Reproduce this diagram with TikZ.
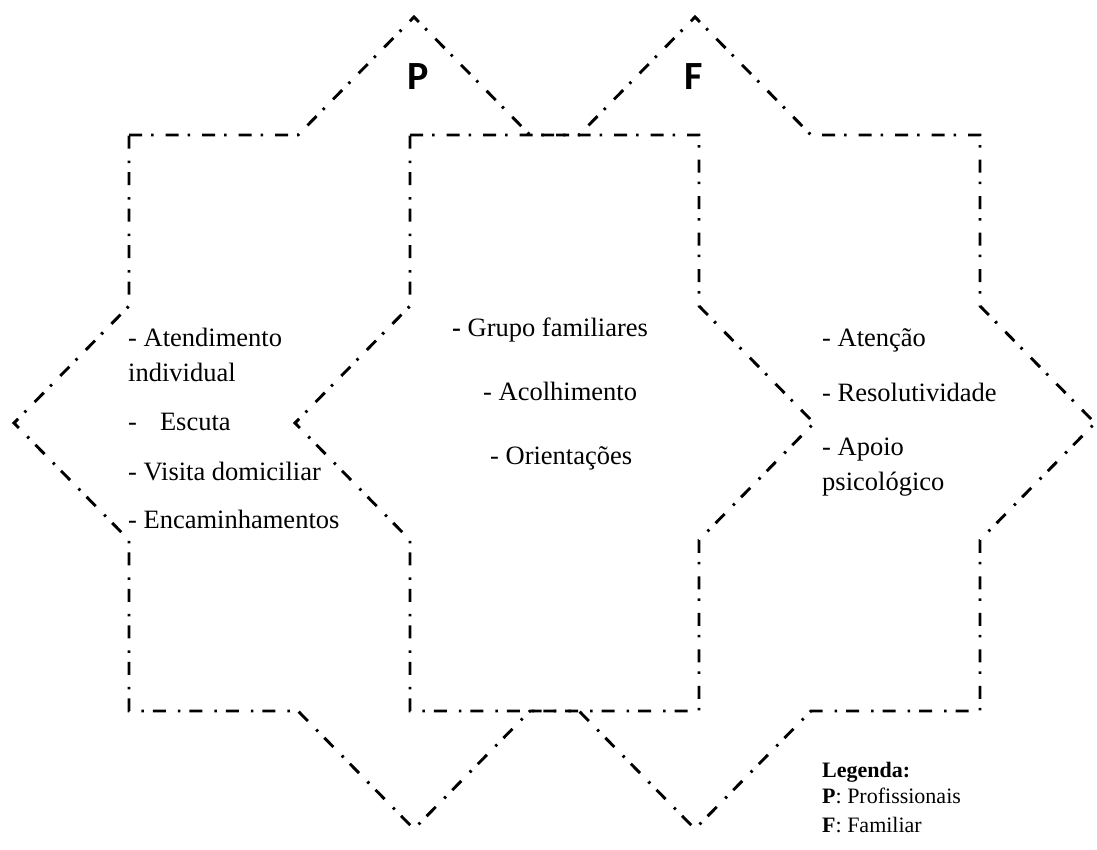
\documentclass[tikz,border=0pt]{standalone}
\usepackage{fontspec}
\setmainfont{Liberation Serif}
\newfontfamily\labfont{Carlito}
\begin{document}
\begin{tikzpicture}[x=1pt,y=-1pt,
  dd/.style={line width=2.9pt, dash pattern=on 13pt off 9pt on 2.5pt off 12pt, line join=miter},
  txt/.style={anchor=base west, inner sep=0pt, font=\fontsize{26.5}{31}\selectfont},
  leg/.style={anchor=base west, inner sep=0pt, font=\fontsize{22}{26}\selectfont},
  big/.style={anchor=base, inner sep=0pt, font=\labfont\bfseries\fontsize{40}{40}\selectfont}]
\useasboundingbox (0,0) rectangle (1097,849);
\foreach \cx in {414,695}{
  \draw[dd] (\cx-285,135) -- (\cx-116,135) -- (\cx,17) -- (\cx+116,135) -- (\cx+285,135)
    -- (\cx+285,306) -- (\cx+400,423) -- (\cx+285,540) -- (\cx+285,711)
    -- (\cx+116,711) -- (\cx,829) -- (\cx-116,711) -- (\cx-285,711)
    -- (\cx-285,540) -- (\cx-400,423) -- (\cx-285,306) -- cycle;
}
\node[big] (P) at (418,89) {P};
\node[big] (F) at (694,89) {F};
% left star
\node[txt] (a1) at (128,346) {- Atendimento};
\node[txt] (a2) at (128,381) {individual};
\node[txt] (a3) at (128,430) {-\hspace{23pt}Escuta};
\node[txt] (a4) at (128,480) {- Visita domiciliar};
\node[txt] (a5) at (128,528) {- Encaminhamentos};
% centre
\node[txt] (c1) at (452,336) {\textbf{-} Grupo familiares};
\node[txt] (c2) at (483,400) {- Acolhimento};
\node[txt] (c3) at (490,464) {- Orientações};
% right star
\node[txt] (r1) at (822,346) {- Atenção};
\node[txt] (r2) at (822,401) {- Resolutividade};
\node[txt] (r3) at (822,455) {- Apoio};
\node[txt] (r4) at (822,490) {psicológico};
% legend
\node[leg] (l1) at (822,777) {\textbf{Legenda:}};
\node[leg] (l2) at (822,803) {\textbf{P}: Profissionais};
\node[leg] (l3) at (822,832) {\textbf{F}: Familiar};
\end{tikzpicture}
\end{document}
